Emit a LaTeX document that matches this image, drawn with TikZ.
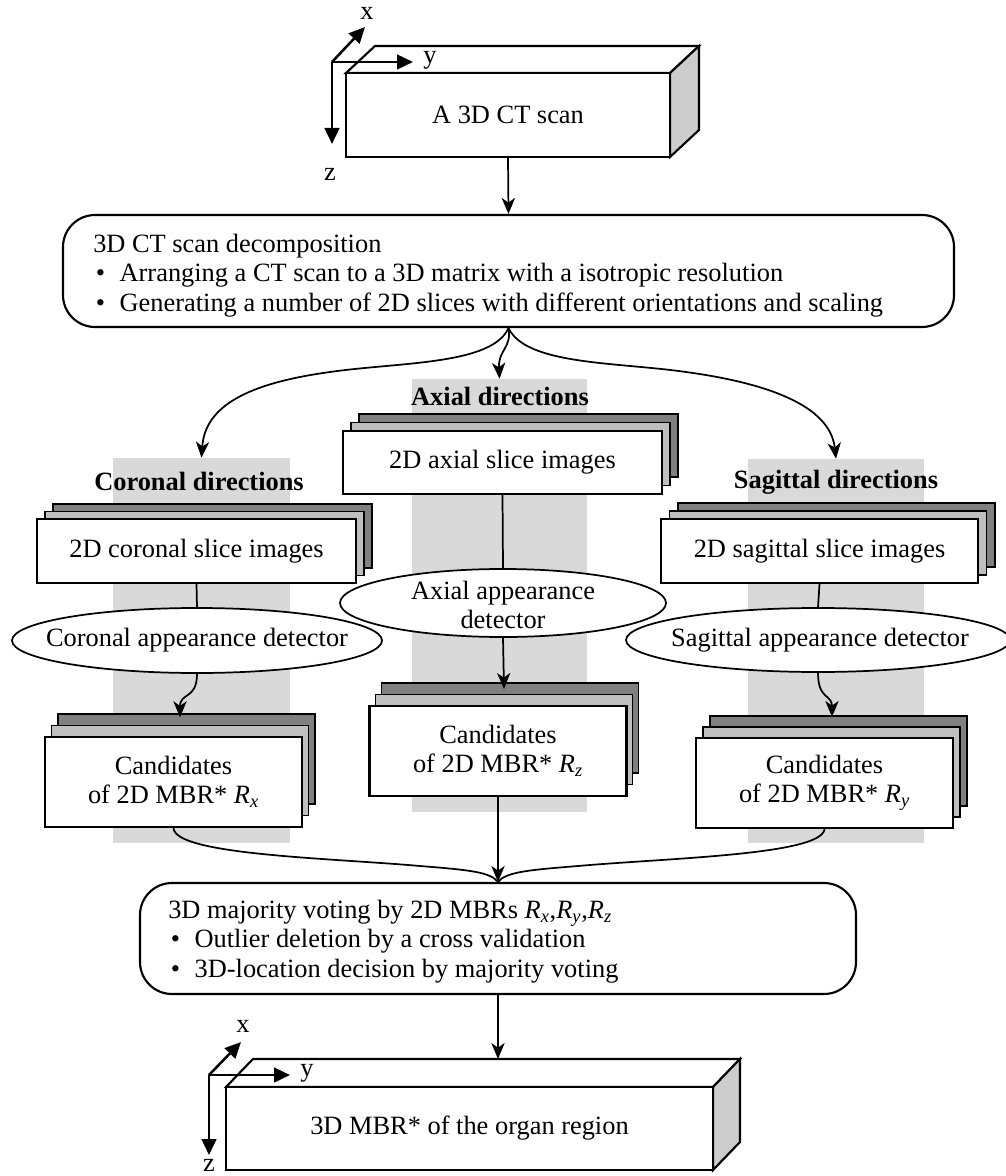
\documentclass[tikz,border=0pt]{standalone}
\usepackage{fontspec}
\setmainfont{Liberation Serif}
\usetikzlibrary{shapes.geometric,arrows.meta}
\definecolor{colgrey}{gray}{0.85}
\definecolor{darkl}{gray}{0.5}
\definecolor{lightl}{gray}{0.75}
\definecolor{sideg}{gray}{0.8}

% name, cx, cy, w, h, dx, dy, text
\newcommand\mystack[8]{%
  \draw[layer,fill=darkl] ({#2-#4/2+2*#6},{#3-#5/2+2*#7}) rectangle ({#2+#4/2+2*#6},{#3+#5/2+2*#7});
  \draw[layer,fill=lightl] ({#2-#4/2+#6},{#3-#5/2+#7}) rectangle ({#2+#4/2+#6},{#3+#5/2+#7});
  \node[frontbox,minimum width={#4*0.75pt},minimum height={#5*0.75pt}] (#1) at (#2,#3) {#8};
}
% name, x1, y1, x2, y2, dx, dy, text
\newcommand\mycuboid[8]{%
  \draw[outl,fill=white] (#2,#3) -- ({#2+#6},{#3+#7}) -- ({#4+#6},{#3+#7}) -- (#4,#3) -- cycle;
  \draw[outl,fill=sideg] (#4,#3) -- ({#4+#6},{#3+#7}) -- ({#4+#6},{#5+#7}) -- (#4,#5) -- cycle;
  \coordinate (#1back) at ({#2+#6},{#3+#7});
  \node[frontbox,minimum width={(#4-#2)*0.75pt},minimum height={(#5-#3)*0.75pt}] (#1) at ({(#2+#4)/2},{(#3+#5)/2}) {#8};
}

\begin{document}
\begin{tikzpicture}[x=0.75pt,y=-0.75pt,
  every node/.style={font=\fontsize{19.8}{22}\selectfont},
  outl/.style={draw=black,line width=1.6pt},
  layer/.style={draw=black,line width=1.4pt},
  frontbox/.style={draw=black,line width=1.6pt,fill=white,inner sep=0pt,align=center},
  column/.style={fill=colgrey,draw=none,inner sep=0pt},
  roundbox/.style={draw=black,line width=1.6pt,fill=white,rounded corners=24pt,inner sep=0pt},
  detector/.style={ellipse,draw=black,line width=1.3pt,fill=white,inner sep=0pt},
  conn/.style={line width=1.3pt,draw=black},
  arr/.style={conn,-{Stealth[length=12pt,width=10pt,inset=3.5pt]}},
  axis/.style={line width=1.9pt,-{Triangle[length=12pt,width=11pt]}},
  dirlabel/.style={font=\bfseries\fontsize{19.8}{22}\selectfont,inner sep=0pt},
  txt/.style={inner sep=0pt,align=left},
]
\useasboundingbox (0,0) rectangle (1005,1176);

% grey columns
\node[column,minimum width={177*0.75pt},minimum height={385*0.75pt}] (colC) at (201.5,650.5) {};
\node[column,minimum width={175*0.75pt},minimum height={433*0.75pt}] (colA) at (499.5,595.5) {};
\node[column,minimum width={176*0.75pt},minimum height={384*0.75pt}] (colS) at (836,651) {};

% top 3D CT scan
\mycuboid{ct}{346}{73}{670}{157}{29}{-27}{A 3D CT scan}
\coordinate (ctO) at (332,62);
\coordinate (ctX) at (365,27);
\coordinate (ctY) at (413,62);
\coordinate (ctZ) at (332,144);
\draw[axis] (ctO) -- (ctX);
\draw[axis] (ctO) -- (ctY);
\draw[axis] (ctO) -- (ctZ);
\node[inner sep=0pt] (ctXl) at (367,13) {x};
\node[inner sep=0pt] (ctYl) at (430,60) {y};
\node[inner sep=0pt] (ctZl) at (330,174) {z};

% decomposition box
\node[roundbox,minimum width={891*0.75pt},minimum height={112*0.75pt}] (dec) at (508.5,271) {};
\node[txt,anchor=north west] (dectxt) at (93,234) {3D CT scan decomposition\\
\hspace{0.1em}•\hspace{0.55em}Arranging a CT scan to a 3D matrix with a isotropic resolution\\
\hspace{0.1em}•\hspace{0.55em}Generating a number of 2D slices with different orientations and scaling};
\draw[arr] (ct.south) -- (dec.north);

% direction labels
\node[dirlabel] (lC) at (199,481) {Coronal directions};
\node[dirlabel] (lA) at (500,396) {Axial directions};
\node[dirlabel] (lS) at (836,482) {Sagittal directions};

% branches
\draw[arr] (dec.south) .. controls (492,365) and (400,362) .. (330,372) .. controls (250,383) and (205,405) .. (colC.north);
\draw[arr] (dec.south) .. controls (512,348) and (498,350) .. (colA.north);
\draw[arr] (dec.south) .. controls (526,365) and (616,362) .. (686,372) .. controls (766,383) and (830,405) .. (colS.north);

% slice stacks
\mystack{sC}{196.5}{551}{319}{64}{8}{-7.5}{2D coronal slice images}
\mystack{sA}{502.5}{462.5}{319}{63}{8}{-8.5}{2D axial slice images}
\mystack{sS}{819.5}{551}{317}{64}{8.5}{-8}{2D sagittal slice images}

% detectors
\node[detector,minimum width={370*0.75pt},minimum height={65*0.75pt}] (eC) at (197,640.5) {};
\node[inner sep=0pt] (eCt) at (eC) {Coronal appearance detector};
\node[detector,minimum width={326*0.75pt},minimum height={68*0.75pt}] (eA) at (503,603) {};
\node[inner sep=0pt,align=center] (eAt) at (503,605) {Axial appearance\\detector};
\node[detector,minimum width={384*0.75pt},minimum height={64*0.75pt}] (eS) at (818,640) {};
\node[inner sep=0pt] (eSt) at (820,640) {Sagittal appearance detector};

\draw[conn] (sC.south) -- (eC.north);
\draw[conn] (sA.south) -- (eA.north);
\draw[conn] (sS.south) -- (eS.north);

% candidate stacks
\mystack{cC}{173.5}{782}{257}{90}{6.5}{-11.5}{Candidates\\of 2D MBR* \textit{R\textsubscript{x}}}
\mystack{cA}{498}{751}{257}{90}{6}{-11.5}{Candidates\\of 2D MBR* \textit{R\textsubscript{z}}}
\mystack{cS}{824.5}{783}{257}{90}{7}{-11}{Candidates\\of 2D MBR* \textit{R\textsubscript{y}}}

\draw[arr] (eC.south) .. controls (197,700) and (180,692) .. ([xshift=4.9pt,yshift=14pt]cC.north);
\draw[arr] (eA.south) -- ([xshift=4.5pt,yshift=12pt]cA.north);
\draw[arr] (eS.south) .. controls (818,700) and (832,694) .. ([xshift=5.6pt,yshift=15pt]cS.north);

% majority voting
\node[roundbox,minimum width={716*0.75pt},minimum height={111*0.75pt}] (maj) at (498,938.5) {};
\node[txt,anchor=north west] (majtxt) at (168,900) {3D majority voting by 2D MBRs \textit{R\textsubscript{x}},\textit{R\textsubscript{y}},\textit{R\textsubscript{z}}\\
\hspace{0.1em}•\hspace{0.55em}Outlier deletion by a cross validation\\
\hspace{0.1em}•\hspace{0.55em}3D-location decision by majority voting};

\draw[conn] (cC.south) .. controls (175,855) and (330,858) .. (420,866) .. controls (470,870) and (490,872) .. (maj.north);
\draw[conn] (cS.south) .. controls (822,855) and (668,858) .. (578,866) .. controls (528,870) and (506,872) .. (maj.north);
\draw[arr] (cA.south) -- (maj.north);

% bottom 3D box
\mycuboid{mbr}{226}{1087}{713}{1170}{27}{-28}{3D MBR* of the organ region}
\draw[arr] (maj.south) -- (maj.south |- mbrback);
\coordinate (bO) at (209,1075);
\coordinate (bX) at (241,1042);
\coordinate (bY) at (290,1075);
\coordinate (bZ) at (209,1155);
\draw[axis] (bO) -- (bX);
\draw[axis] (bO) -- (bY);
\draw[axis] (bO) -- (bZ);
\node[inner sep=0pt] (bXl) at (243,1026) {x};
\node[inner sep=0pt] (bYl) at (307,1073) {y};
\node[inner sep=0pt] (bZl) at (209,1165) {z};
\end{tikzpicture}
\end{document}
